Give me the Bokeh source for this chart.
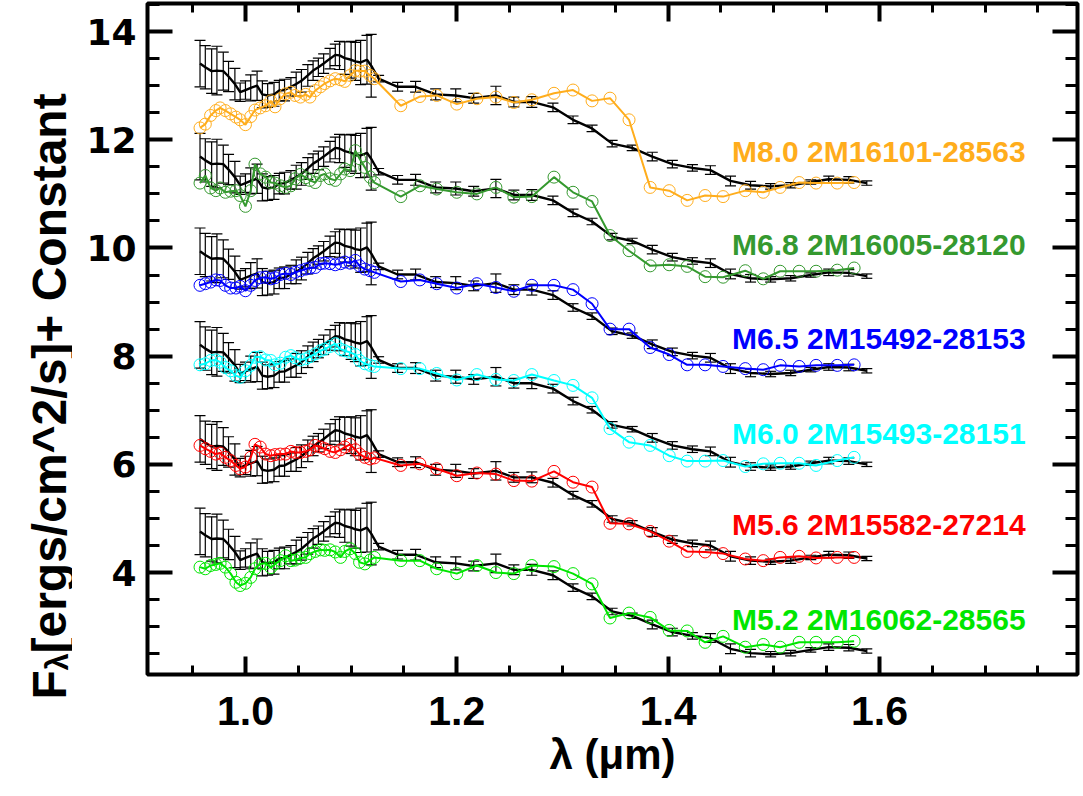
import math
from bokeh.plotting import figure
from bokeh.layouts import row
from bokeh.models import (ColumnDataSource, Range1d, LinearAxis, SingleIntervalTicker,
                          PrintfTickFormatter, CustomJSTickFormatter, Whisker, TeeHead)
from bokeh.core.properties import value
from bokeh.embed import file_html
from bokeh.resources import INLINE

# ---------------- data ----------------
# black standard template (shown for the M5.2 star, shifted by a constant for the others)
tmpl_wave = [0.957, 0.962, 0.968, 0.973, 0.979, 0.984, 0.990, 0.995, 1.000, 1.005,
             1.011, 1.016, 1.021, 1.027, 1.032, 1.037, 1.043, 1.048, 1.053, 1.059,
             1.064, 1.069, 1.074, 1.080, 1.085, 1.089, 1.094, 1.100, 1.104, 1.109,
             1.115, 1.119, 1.126, 1.144, 1.161, 1.180, 1.199, 1.216, 1.237,
             1.254, 1.271, 1.291, 1.310, 1.328, 1.347, 1.366, 1.385, 1.404, 1.423,
             1.440, 1.459, 1.478, 1.497, 1.516, 1.535, 1.552, 1.571, 1.588]
tmpl_flux = [4.76, 4.69, 4.62, 4.63, 4.62, 4.52, 4.38, 4.23, 4.27, 4.31,
             4.35, 4.19, 4.17, 4.19, 4.26, 4.27, 4.33, 4.38, 4.44, 4.54,
             4.63, 4.69, 4.76, 4.85, 4.92, 4.91, 4.86, 4.83, 4.80, 4.78,
             4.83, 4.72, 4.48, 4.33, 4.33, 4.19, 4.17, 4.12, 4.17,
             4.05, 4.05, 3.95, 3.72, 3.56, 3.28, 3.20, 3.04, 2.90, 2.83,
             2.79, 2.59, 2.51, 2.49, 2.51, 2.57, 2.62, 2.61, 2.55]
tmpl_err = [0.43, 0.40, 0.41, 0.45, 0.35, 0.28, 0.29, 0.17, 0.17, 0.24,
            0.27, 0.25, 0.22, 0.22, 0.19, 0.20, 0.17, 0.22, 0.21, 0.20,
            0.18, 0.17, 0.18, 0.19, 0.20, 0.26, 0.30, 0.34, 0.35, 0.41,
            0.45, 0.58, 0.06, 0.08, 0.10, 0.10, 0.12, 0.09, 0.17,
            0.09, 0.10, 0.08, 0.07, 0.06, 0.06, 0.05, 0.08, 0.07, 0.06,
            0.08, 0.09, 0.07, 0.05, 0.05, 0.04, 0.06, 0.06, 0.04]

names = ["M8.0 2M16101-28563", "M6.8 2M16005-28120", "M6.5 2M15492-28153",
         "M6.0 2M15493-28151", "M5.6 2M15582-27214", "M5.2 2M16062-28565"]
colors = ["#ffad1c", "#35992f", "#0000ff", "#00ffff", "#ff0000", "#00e600"]
offsets = [8.65, 6.93, 5.18, 3.45, 1.71, 0.0]
label_y = [11.79, 10.07, 8.33, 6.57, 4.89, 3.13]
label_x = 1.4605

obs_wave = [0.957, 0.962, 0.967, 0.972, 0.976, 0.981, 0.986, 0.991, 0.995, 1.000,
            1.005, 1.009, 1.014, 1.019, 1.024, 1.028, 1.033, 1.038, 1.043, 1.047,
            1.052, 1.057, 1.061, 1.066, 1.071, 1.075, 1.080, 1.085, 1.090, 1.094,
            1.099, 1.104, 1.108, 1.113, 1.118, 1.122,
            1.147, 1.165, 1.181, 1.200, 1.219, 1.237, 1.254, 1.271, 1.292, 1.310,
            1.328, 1.345, 1.363, 1.383, 1.401, 1.418, 1.435, 1.452, 1.473, 1.490,
            1.506, 1.524, 1.540, 1.560, 1.576]

flux_m80 = [12.22, 12.29, 12.45, 12.54, 12.59, 12.54, 12.48, 12.42, 12.37, 12.28,
            12.43, 12.55, 12.59, 12.63, 12.72, 12.61, 12.76, 12.85, 12.88, 12.82,
            12.79, 12.84, 12.79, 12.91, 12.98, 13.04, 13.09, 13.13, 13.11, 13.08,
            13.19, 13.28, 13.27, 13.27, 13.19, 13.13,
            12.63, 12.80, 12.82, 12.66, 12.76, 12.79, 12.69, 12.74, 12.86, 12.92,
            12.72, 12.77, 12.37, 11.12, 11.06, 10.88, 10.97, 10.95, 11.06, 11.03,
            11.12, 11.21, 11.20, 11.20, 11.21]
flux_m68 = [11.20, 11.34, 11.11, 11.06, 11.11, 11.03, 11.05, 11.06, 10.97, 10.77,
            11.06, 11.55, 11.37, 11.31, 11.21, 11.20, 11.15, 11.12, 11.15, 11.28,
            11.36, 11.30, 11.25, 11.21, 11.34, 11.37, 11.28, 11.25, 11.37, 11.46,
            11.43, 11.80, 11.65, 11.49, 11.31, 11.21,
            10.95, 11.15, 11.09, 11.03, 11.00, 11.12, 10.94, 10.95, 11.31, 11.03,
            10.86, 10.23, 9.95, 9.67, 9.69, 9.66, 9.47, 9.46, 9.58, 9.43,
            9.57, 9.57, 9.57, 9.59, 9.63]
flux_m65 = [9.31, 9.34, 9.37, 9.41, 9.40, 9.31, 9.26, 9.26, 9.29, 9.21,
            9.31, 9.40, 9.45, 9.46, 9.43, 9.45, 9.51, 9.53, 9.51, 9.55,
            9.58, 9.61, 9.63, 9.64, 9.71, 9.72, 9.71, 9.69, 9.71, 9.74,
            9.72, 9.77, 9.67, 9.61, 9.58, 9.55,
            9.38, 9.41, 9.34, 9.26, 9.34, 9.27, 9.20, 9.31, 9.31, 9.23,
            8.97, 8.50, 8.50, 8.16, 8.03, 7.84, 7.84, 7.81, 7.77, 7.75,
            7.83, 7.81, 7.83, 7.83, 7.84]
flux_m60 = [7.84, 7.86, 7.92, 7.93, 7.89, 7.79, 7.73, 7.64, 7.61, 7.73,
            7.83, 7.98, 7.99, 7.93, 7.92, 7.84, 7.87, 7.98, 8.01, 7.97,
            7.93, 7.95, 7.99, 8.04, 8.10, 8.13, 8.18, 8.23, 8.13, 8.10,
            8.07, 8.03, 7.92, 7.86, 7.83, 7.81,
            7.77, 7.77, 7.68, 7.56, 7.66, 7.57, 7.55, 7.66, 7.55, 7.46,
            7.23, 6.66, 6.41, 6.35, 6.16, 6.06, 6.06, 6.07, 5.96, 6.01,
            6.02, 6.02, 5.98, 6.07, 6.13]
flux_m56 = [6.35, 6.29, 6.24, 6.19, 6.21, 6.13, 6.07, 5.98, 5.92, 5.95,
            6.13, 6.37, 6.32, 6.19, 6.16, 6.18, 6.19, 6.19, 6.24, 6.22,
            6.22, 6.24, 6.27, 6.35, 6.32, 6.29, 6.24, 6.22, 6.27, 6.32,
            6.37, 6.27, 6.19, 6.13, 6.10, 6.12,
            5.98, 6.01, 5.92, 5.79, 5.84, 5.82, 5.70, 5.69, 5.87, 5.67,
            5.58, 4.91, 4.90, 4.76, 4.58, 4.39, 4.38, 4.35, 4.25, 4.22,
            4.28, 4.30, 4.27, 4.28, 4.28]
flux_m52 = [4.10, 4.07, 4.13, 4.15, 4.17, 4.10, 3.98, 3.82, 3.76, 3.80,
            3.91, 4.07, 4.16, 4.17, 4.09, 4.16, 4.22, 4.31, 4.22, 4.23,
            4.27, 4.28, 4.35, 4.39, 4.42, 4.41, 4.42, 4.38, 4.28, 4.39,
            4.44, 4.35, 4.19, 4.16, 4.23, 4.28,
            4.22, 4.22, 4.07, 3.98, 4.13, 4.00, 3.98, 4.13, 4.11, 3.98,
            3.79, 3.16, 3.25, 3.17, 2.93, 2.92, 2.71, 2.82, 2.62, 2.67,
            2.62, 2.71, 2.71, 2.71, 2.73]
obs_flux = [flux_m80, flux_m68, flux_m65, flux_m60, flux_m56, flux_m52]

x_ticks_interval = 0.2
y_ticks_interval = 2

# y-axis title pieces: F, subscript lambda, rest
ytitle_parts = ["F", "λ", "[ergs/cm^2/s]+ Constant"]

FIG_H = 796
LEFT_W = 72
FRAME_TOP = 3
FRAME_BOTTOM = 674

# ---------------- left panel holding the rotated y-axis title ----------------
pl = figure(width=LEFT_W, height=FIG_H, x_range=Range1d(0, LEFT_W),
            y_range=Range1d(FIG_H, 0),
            output_backend="svg", toolbar_location=None,
            x_axis_location=None, y_axis_location=None,
            min_border_left=0, min_border_right=0, min_border_top=0, min_border_bottom=0)
pl.outline_line_color = None
pl.xgrid.grid_line_color = None
pl.ygrid.grid_line_color = None
pl.border_fill_color = "white"
pl.background_fill_color = "white"
ysrc = ColumnDataSource(dict(x=[49, 57, 49], y=[699, 670, 653], t=ytitle_parts,
                             s=["48px", "31px", "48px"]))
pl.text(x="x", y="y", text="t", source=ysrc, angle=math.pi / 2,
        text_font=value("Liberation Sans"), text_font_style="bold",
        text_font_size="s", text_color="black",
        text_align="left", text_baseline="alphabetic")

# ---------------- main figure ----------------
p = figure(width=1081 - LEFT_W, height=FIG_H,
           x_range=Range1d(0.9073, 1.7874), y_range=Range1d(2.115, 14.52),
           output_backend="svg", toolbar_location=None,
           min_border_left=147 - LEFT_W, min_border_right=4, min_border_top=FRAME_TOP,
           min_border_bottom=FIG_H - FRAME_BOTTOM)
p.xgrid.grid_line_color = None
p.ygrid.grid_line_color = None
p.outline_line_color = "black"
p.outline_line_width = 4
p.background_fill_color = "white"
p.border_fill_color = None

# do not force the title panel's frame to line up with the main frame
for fig in (pl, p):
    if "frame_align" in fig.properties():
        fig.frame_align = False

bx = p.below[0]
ly = p.left[0]

top_ax = LinearAxis()
right_ax = LinearAxis()
p.add_layout(top_ax, "above")
p.add_layout(right_ax, "right")

for ax in [bx, top_ax]:
    ax.ticker = SingleIntervalTicker(interval=x_ticks_interval, num_minor_ticks=4)
    ax.major_tick_in = 18
    ax.minor_tick_in = 9
for ax in [ly, right_ax]:
    ax.ticker = SingleIntervalTicker(interval=y_ticks_interval, num_minor_ticks=4)
    ax.major_tick_in = 25
    ax.minor_tick_in = 12
for ax in [bx, top_ax, ly, right_ax]:
    ax.major_tick_out = 0
    ax.minor_tick_out = 0
    ax.major_tick_line_width = 4
    ax.minor_tick_line_width = 3
    ax.axis_line_color = None
for ax in [top_ax, right_ax]:
    ax.formatter = CustomJSTickFormatter(code="return '';")
    ax.major_label_text_font_size = "1px"
    ax.major_label_standoff = 0

bx.formatter = PrintfTickFormatter(format="%.1f")
bx.major_label_text_font = "Liberation Sans"
bx.major_label_text_font_style = "bold"
bx.major_label_text_font_size = "41px"
bx.major_label_text_color = "black"
bx.major_label_standoff = 22
bx.axis_label = "λ (μm)"
bx.axis_label_text_font = "Liberation Sans"
bx.axis_label_text_font_style = "bold"
bx.axis_label_text_font_size = "42px"
bx.axis_label_text_color = "black"
bx.axis_label_standoff = 3

ly.formatter = PrintfTickFormatter(format="%d")
ly.major_label_text_font = "DejaVu Sans"
ly.major_label_text_font_style = "bold"
ly.major_label_text_font_size = "36px"
ly.major_label_text_color = "black"
ly.major_label_standoff = 11

# ---------------- glyphs ----------------
for name, col, off, flux in zip(names, colors, offsets, obs_flux):
    tflux = [f + off for f in tmpl_flux]
    src_t = ColumnDataSource(dict(x=tmpl_wave, y=tflux,
                                  upper=[f + e for f, e in zip(tflux, tmpl_err)],
                                  lower=[f - e for f, e in zip(tflux, tmpl_err)]))
    p.add_layout(Whisker(base="x", upper="upper", lower="lower", source=src_t,
                         dimension="height", line_color="black", line_width=1.2,
                         upper_head=TeeHead(size=11, line_color="black", line_width=1.2),
                         lower_head=TeeHead(size=11, line_color="black", line_width=1.2)))
    p.line("x", "y", source=src_t, line_color="black", line_width=2.4)

for name, col, flux in zip(names, colors, obs_flux):
    src_o = ColumnDataSource(dict(x=obs_wave, y=flux))
    p.line("x", "y", source=src_o, line_color=col, line_width=2)
    p.scatter("x", "y", source=src_o, marker="circle", size=12, fill_color=None,
              line_color=col, line_width=1)

src_lab = ColumnDataSource(dict(x=[label_x] * len(names), y=label_y, t=names, c=colors))
p.text(x="x", y="y", text="t", text_color="c", source=src_lab,
       text_font=value("Liberation Sans"), text_font_style="bold",
       text_font_size="30px", text_align="left", text_baseline="alphabetic")

layout = row(pl, p, spacing=0)
open("out.html", "w").write(file_html(layout, INLINE))
